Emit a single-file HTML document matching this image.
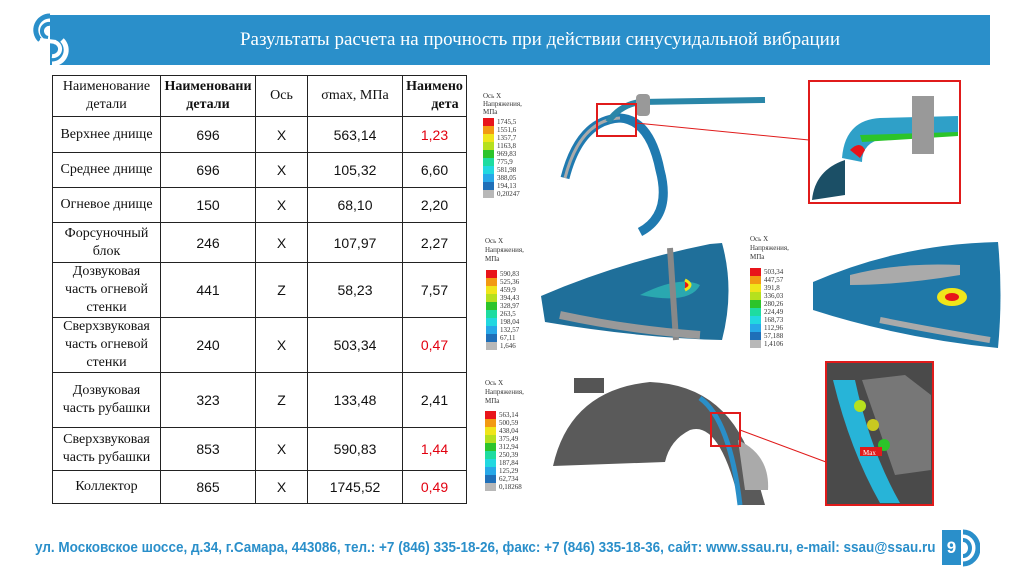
<!DOCTYPE html>
<html><head><meta charset="utf-8">
<style>
html,body{margin:0;padding:0;background:#fff;}
body{width:1024px;height:576px;position:relative;overflow:hidden;font-family:"Liberation Serif","Noto Serif CJK SC",serif;}
#hdr{position:absolute;left:50px;top:15px;width:940px;height:50px;background:#2a8fca;}
#title{position:absolute;left:0;right:0;top:14px;text-align:center;color:#fff;font-size:19px;padding-left:40px;}
table{position:absolute;left:52px;top:75px;border-collapse:collapse;}
td{border:1.5px solid #222;text-align:center;font-size:14px;padding:0;color:#111;}
td.n{font-family:"Liberation Serif",serif;font-size:14px;line-height:18px;}
td.v{font-family:"Liberation Sans",sans-serif;font-size:14px;}
.red{color:#e2000f;}
#foot{position:absolute;left:35px;top:539px;font-family:"Liberation Sans",sans-serif;font-weight:bold;font-size:15px;color:#2a8fca;white-space:nowrap;transform:scaleX(0.9);transform-origin:0 0;}
</style></head>
<body>
<div id="hdr"><div id="title">Разультаты расчета на прочность при действии синусуидальной вибрации</div></div>
<svg style="position:absolute;left:30px;top:12px" width="44" height="56">
<path d="M20,4 A14,14 0 0 0 10,28" fill="none" stroke="#2a8fca" stroke-width="5"/>
<path d="M20,12 A7,7 0 0 0 18,26" fill="none" stroke="#2a8fca" stroke-width="4"/>
<path d="M10,28 L26,30" stroke="#fff" stroke-width="4"/>
<path d="M22,52 A14,14 0 0 0 32,28" fill="none" stroke="#fff" stroke-width="5"/>
<path d="M22,44 A7,7 0 0 0 24,30" fill="none" stroke="#fff" stroke-width="4"/>
</svg>
<table>
<tr style="height:41px"><td class="n" style="width:107px">Наименование<br>детали</td><td class="n" style="width:94px;font-weight:bold;overflow:hidden;white-space:nowrap">Наименовани<br>детали</td><td class="n" style="width:51px">Ось</td><td class="n" style="width:94px">σmax, МПа</td><td class="n" style="width:63px;font-weight:bold;overflow:hidden;white-space:nowrap;max-width:63px">Наимено<br>&nbsp;&nbsp;&nbsp;&nbsp;&nbsp;&nbsp;дета</td></tr>
<tr style="height:36px"><td class="n">Верхнее днище</td><td class="v">696</td><td class="v">X</td><td class="v">563,14</td><td class="v red">1,23</td></tr>
<tr style="height:35px"><td class="n">Среднее днище</td><td class="v">696</td><td class="v">X</td><td class="v">105,32</td><td class="v">6,60</td></tr>
<tr style="height:35px"><td class="n">Огневое днище</td><td class="v">150</td><td class="v">X</td><td class="v">68,10</td><td class="v">2,20</td></tr>
<tr style="height:40px"><td class="n">Форсуночный<br>блок</td><td class="v">246</td><td class="v">X</td><td class="v">107,97</td><td class="v">2,27</td></tr>
<tr style="height:55px"><td class="n">Дозвуковая<br>часть огневой<br>стенки</td><td class="v">441</td><td class="v">Z</td><td class="v">58,23</td><td class="v">7,57</td></tr>
<tr style="height:55px"><td class="n">Сверхзвуковая<br>часть огневой<br>стенки</td><td class="v">240</td><td class="v">X</td><td class="v">503,34</td><td class="v red">0,47</td></tr>
<tr style="height:55px"><td class="n">Дозвуковая<br>часть рубашки</td><td class="v">323</td><td class="v">Z</td><td class="v">133,48</td><td class="v">2,41</td></tr>
<tr style="height:43px"><td class="n">Сверхзвуковая<br>часть рубашки</td><td class="v">853</td><td class="v">X</td><td class="v">590,83</td><td class="v red">1,44</td></tr>
<tr style="height:33px"><td class="n">Коллектор</td><td class="v">865</td><td class="v">X</td><td class="v">1745,52</td><td class="v red">0,49</td></tr>
</table>

<svg style="position:absolute;left:0;top:0" width="1024" height="576" font-family="Liberation Serif, serif">
<defs>
<g id="lg">
<rect x="0" y="0" width="11" height="8" fill="#e8141a"/><rect x="0" y="8" width="11" height="8" fill="#f29a12"/>
<rect x="0" y="16" width="11" height="8" fill="#f0e51a"/><rect x="0" y="24" width="11" height="8" fill="#b6e01e"/>
<rect x="0" y="32" width="11" height="8" fill="#2cc42a"/><rect x="0" y="40" width="11" height="8" fill="#1edca0"/>
<rect x="0" y="48" width="11" height="8" fill="#22d8e0"/><rect x="0" y="56" width="11" height="8" fill="#27a8e8"/>
<rect x="0" y="64" width="11" height="8" fill="#1f6fb8"/><rect x="0" y="72" width="11" height="8" fill="#b8b8b8"/>
</g>
</defs>
<g font-size="7" fill="#333">
<text x="483" y="98">Ось X</text><text x="483" y="106">Напряжения,</text><text x="483" y="114">МПа</text>
<use href="#lg" x="483" y="118"/>
<text x="497" y="124">1745,5</text><text x="497" y="132">1551,6</text><text x="497" y="140">1357,7</text><text x="497" y="148">1163,8</text><text x="497" y="156">969,83</text><text x="497" y="164">775,9</text><text x="497" y="172">581,98</text><text x="497" y="180">388,05</text><text x="497" y="188">194,13</text><text x="497" y="196">0,20247</text>
</g>
<path d="M565,178 Q580,120 620,118 Q650,120 660,170 Q672,215 640,232" fill="none" stroke="#1f7ab0" stroke-width="9"/>
<path d="M565,178 Q580,120 620,118" fill="none" stroke="#aaa" stroke-width="3"/>
<path d="M608,122 Q620,105 640,102 L765,100" fill="none" stroke="#2a86a8" stroke-width="6"/>
<rect x="636" y="94" width="14" height="22" rx="4" fill="#999"/>
<rect x="597" y="104" width="39" height="32" fill="none" stroke="#e01b1b" stroke-width="2"/>
<line x1="636" y1="123" x2="809" y2="140" stroke="#e01b1b" stroke-width="1"/>
<rect x="809" y="81" width="151" height="122" fill="#fff" stroke="#e01b1b" stroke-width="2"/>
<path d="M812,200 Q815,170 845,160 L845,195 Z" fill="#1b4f66"/>
<path d="M842,158 Q845,120 880,118 L958,116 L958,135 L885,138 Q862,142 862,162 Z" fill="#2fa0c8"/>
<path d="M850,150 Q860,140 865,150 L860,158 Z" fill="#e8141a"/>
<path d="M860,135 L958,132 L958,136 L862,142 Z" fill="#2cc42a"/>
<rect x="912" y="96" width="22" height="58" fill="#999"/>
<g font-size="7" fill="#333">
<text x="485" y="243">Ось X</text><text x="485" y="252">Напряжения,</text><text x="485" y="261">МПа</text>
<use href="#lg" x="486" y="270"/>
<text x="500" y="276">590,83</text><text x="500" y="284">525,36</text><text x="500" y="292">459,9</text><text x="500" y="300">394,43</text><text x="500" y="308">328,97</text><text x="500" y="316">263,5</text><text x="500" y="324">198,04</text><text x="500" y="332">132,57</text><text x="500" y="340">67,11</text><text x="500" y="348">1,646</text>
</g>
<path d="M541,296 Q620,262 710,244 L722,243 Q735,290 722,340 Q640,338 545,322 Z" fill="#1f6f9a"/>
<path d="M640,295 Q680,275 700,285 Q690,305 640,295 Z" fill="#2aa8b0"/>
<path d="M670,248 L676,340" stroke="#888" stroke-width="6"/>
<path d="M685,280 Q695,285 685,290" fill="#e8141a" stroke="#f0e51a" stroke-width="3"/>
<path d="M560,315 Q630,330 700,335" fill="none" stroke="#999" stroke-width="8"/>
<g font-size="7" fill="#333">
<text x="750" y="241">Ось X</text><text x="750" y="250">Напряжения,</text><text x="750" y="259">МПа</text>
<use href="#lg" x="750" y="268"/>
<text x="764" y="274">503,34</text><text x="764" y="282">447,57</text><text x="764" y="290">391,8</text><text x="764" y="298">336,03</text><text x="764" y="306">280,26</text><text x="764" y="314">224,49</text><text x="764" y="322">168,73</text><text x="764" y="330">112,96</text><text x="764" y="338">57,188</text><text x="764" y="346">1,4106</text>
</g>
<path d="M813,282 Q900,244 998,242 Q1003,295 998,348 Q900,338 813,310 Z" fill="#1f78a8"/>
<path d="M850,275 Q900,262 960,265 L960,275 Q900,285 850,285 Z" fill="#aaa"/>
<path d="M880,320 Q930,330 990,340" fill="none" stroke="#aaa" stroke-width="6"/>
<ellipse cx="952" cy="297" rx="15" ry="9" fill="#f0e51a"/><ellipse cx="952" cy="297" rx="7" ry="4" fill="#e8141a"/>
<g font-size="7" fill="#333">
<text x="485" y="385">Ось X</text><text x="485" y="394">Напряжения,</text><text x="485" y="403">МПа</text>
<use href="#lg" x="485" y="411"/>
<text x="499" y="417">563,14</text><text x="499" y="425">500,59</text><text x="499" y="433">438,04</text><text x="499" y="441">375,49</text><text x="499" y="449">312,94</text><text x="499" y="457">250,39</text><text x="499" y="465">187,84</text><text x="499" y="473">125,29</text><text x="499" y="481">62,734</text><text x="499" y="489">0,18268</text>
</g>
<path d="M553,466 Q570,390 650,382 Q730,385 755,470 L765,505 L740,505 Q720,420 690,430 Q670,440 665,462 Z" fill="#5a5a5a"/>
<path d="M700,398 Q730,420 740,505" fill="none" stroke="#2a8fc8" stroke-width="5"/>
<path d="M738,440 Q770,455 768,490 L745,490 Z" fill="#aaa"/>
<rect x="574" y="378" width="30" height="15" fill="#555"/>
<rect x="711" y="413" width="29" height="33" fill="none" stroke="#e01b1b" stroke-width="2"/>
<line x1="740" y1="430" x2="826" y2="462" stroke="#e01b1b" stroke-width="1"/>
<rect x="826" y="362" width="107" height="143" fill="#4a4a4a" stroke="#e01b1b" stroke-width="2"/>
<path d="M833,380 Q850,450 880,503 L900,503 Q870,450 855,380 Z" fill="#27b4d8"/>
<path d="M862,380 L905,375 L931,395 L931,470 L895,475 Z" fill="#777"/>
<circle cx="860" cy="406" r="6" fill="#b6e01e"/><circle cx="873" cy="425" r="6" fill="#c8c820"/><circle cx="884" cy="445" r="6" fill="#2cc42a"/>
<rect x="860" y="447" width="22" height="9" fill="#e01b1b"/><text x="863" y="455" font-size="7" fill="#fff">Max</text>
</svg>

<div id="foot">ул. Московское шоссе, д.34, г.Самара, 443086, тел.: +7 (846) 335-18-26, факс: +7 (846) 335-18-36, сайт: www.ssau.ru, e-mail: ssau@ssau.ru</div>
<div style="position:absolute;left:942px;top:530px;width:19px;height:35px;background:#2a8fca;color:#fff;font-family:'Liberation Sans',sans-serif;font-weight:bold;font-size:17px;text-align:center;line-height:35px">9</div>
<svg style="position:absolute;left:960px;top:528px" width="20" height="40"><path d="M3,4 A15,16 0 0 1 3,36" fill="none" stroke="#2a8fca" stroke-width="5"/><path d="M3,12 A7,8 0 0 1 3,28" fill="none" stroke="#2a8fca" stroke-width="4"/></svg>
</body></html>
